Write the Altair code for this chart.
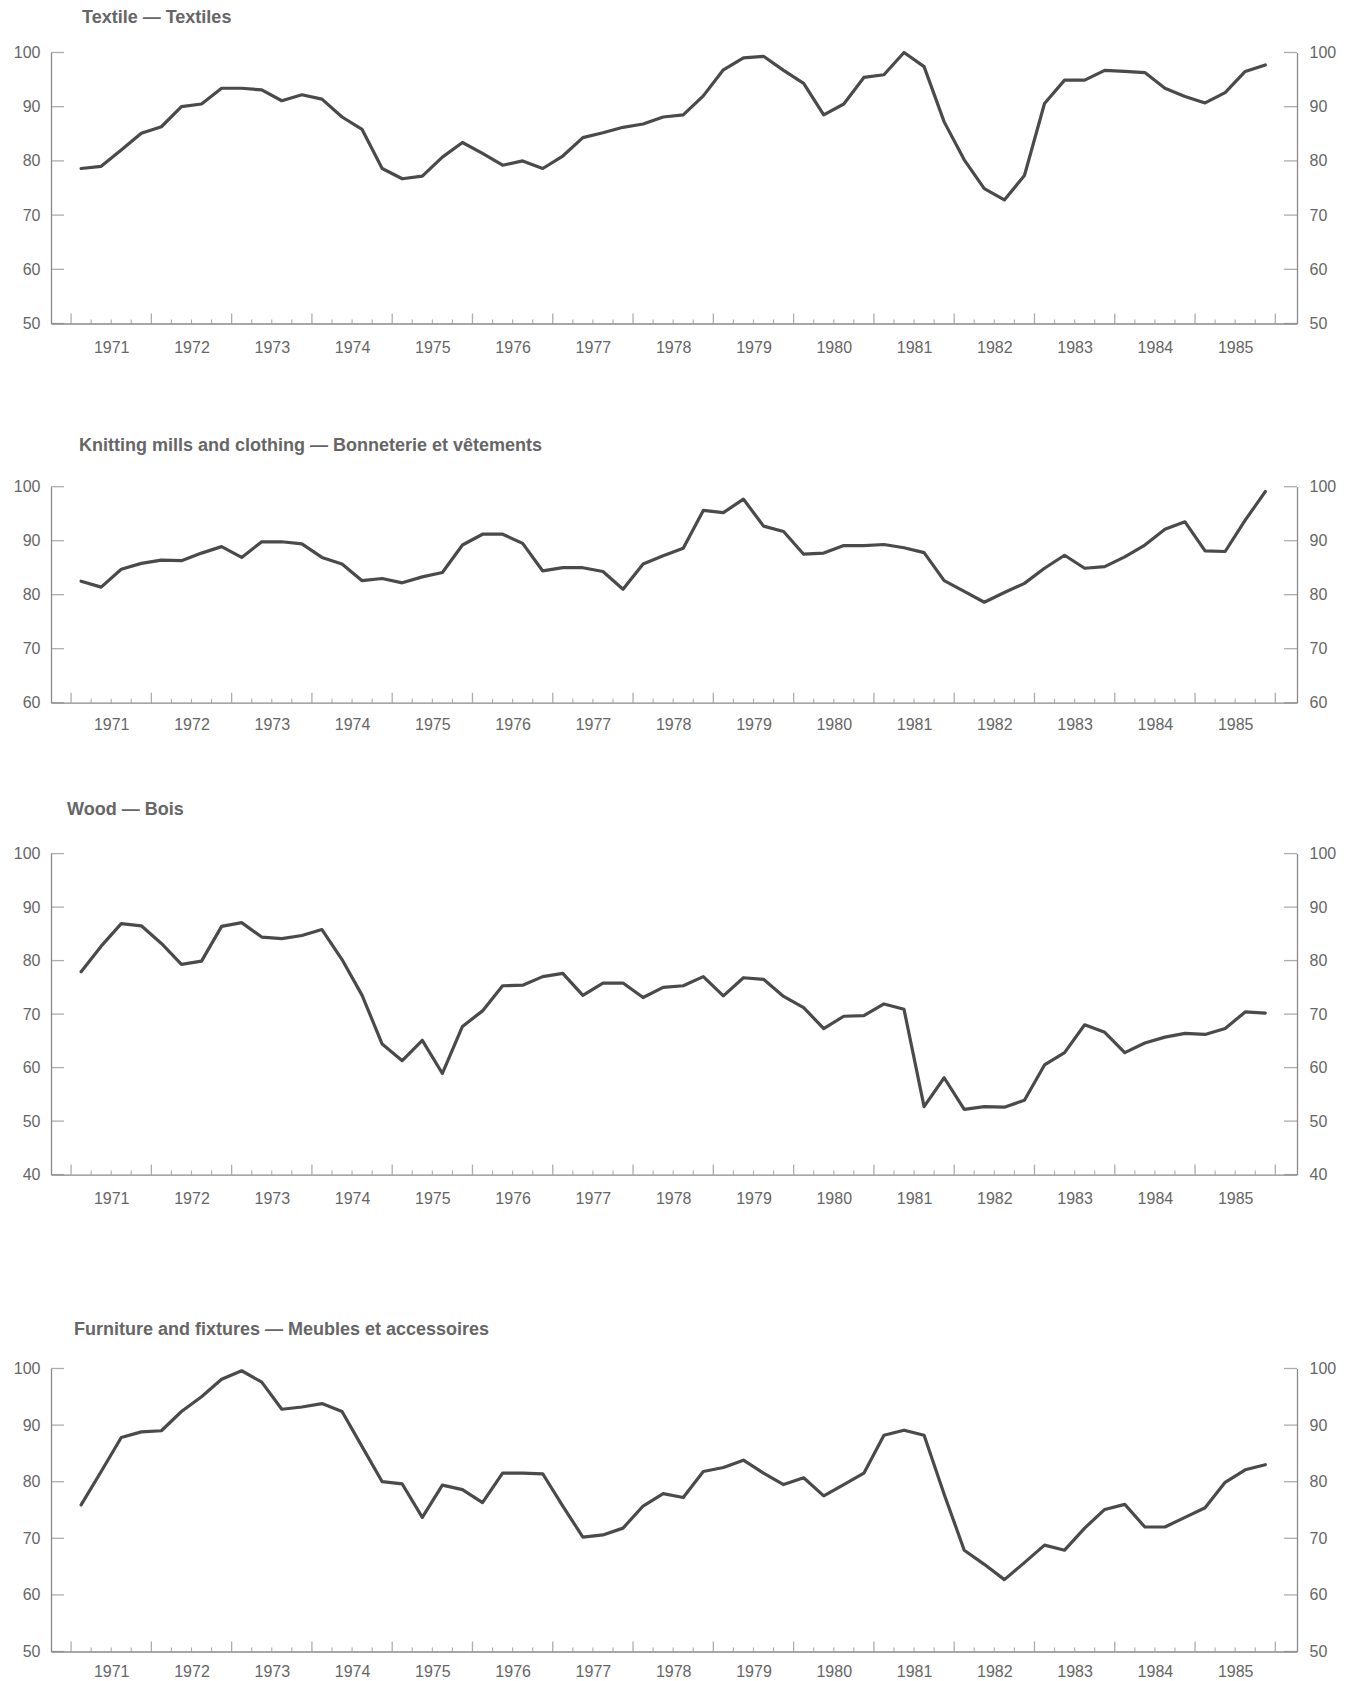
import altair as alt
import pandas as pd

years = list(range(1971, 1986))

titles = [
    "Textile \u2014 Textiles",
    "Knitting mills and clothing \u2014 Bonneterie et v\u00eatements",
    "Wood \u2014 Bois",
    "Furniture and fixtures \u2014 Meubles et accessoires",
]

textile = [78.6, 79.0, 82.0, 85.1, 86.3, 90.0, 90.5, 93.4, 93.4, 93.1,
           91.1, 92.2, 91.4, 88.1, 85.8, 78.6, 76.7, 77.2, 80.7, 83.4,
           81.4, 79.2, 80.0, 78.6, 80.9, 84.3, 85.2, 86.2, 86.8, 88.1,
           88.5, 92.0, 96.8, 99.0, 99.3, 96.7, 94.3, 88.5, 90.5, 95.4,
           95.9, 100.0, 97.4, 87.2, 80.2, 74.9, 72.8, 77.3, 90.6, 94.9,
           94.9, 96.7, 96.5, 96.3, 93.4, 91.9, 90.7, 92.6, 96.5, 97.7]

knitting = [82.5, 81.4, 84.7, 85.8, 86.4, 86.3, 87.7, 88.9, 86.9, 89.8,
            89.8, 89.4, 86.9, 85.7, 82.6, 83.0, 82.2, 83.3, 84.1, 89.2,
            91.2, 91.2, 89.5, 84.4, 85.0, 85.0, 84.3, 81.0, 85.7, 87.2,
            88.6, 95.6, 95.2, 97.7, 92.7, 91.7, 87.5, 87.7, 89.1, 89.1,
            89.3, 88.7, 87.8, 82.6, 80.6, 78.6, 80.4, 82.1, 84.9, 87.3,
            84.9, 85.2, 87.0, 89.2, 92.1, 93.5, 88.1, 88.0, 93.8, 99.1]

wood = [77.9, 82.7, 86.9, 86.5, 83.2, 79.3, 79.9, 86.4, 87.1, 84.4,
        84.1, 84.7, 85.8, 80.2, 73.5, 64.4, 61.3, 65.1, 58.9, 67.7,
        70.6, 75.3, 75.4, 77.0, 77.6, 73.5, 75.8, 75.8, 73.1, 75.0,
        75.3, 77.0, 73.4, 76.8, 76.5, 73.3, 71.2, 67.3, 69.6, 69.7,
        71.9, 70.9, 52.7, 58.1, 52.2, 52.7, 52.6, 53.9, 60.5, 62.8,
        68.0, 66.6, 62.8, 64.6, 65.7, 66.4, 66.2, 67.3, 70.4, 70.2]

furniture = [75.9, 81.8, 87.8, 88.8, 89.0, 92.4, 95.0, 98.1, 99.6, 97.6,
             92.8, 93.2, 93.8, 92.4, 86.2, 80.0, 79.6, 73.7, 79.4, 78.6,
             76.3, 81.5, 81.5, 81.4, 75.7, 70.2, 70.6, 71.8, 75.7, 77.9,
             77.2, 81.8, 82.5, 83.8, 81.5, 79.5, 80.7, 77.5, 79.5, 81.5,
             88.2, 89.1, 88.2, 77.8, 67.9, 65.4, 62.7, 65.7, 68.8, 67.9,
             71.8, 75.1, 76.0, 72.0, 72.0, 73.7, 75.4, 79.9, 82.1, 83.0]

y_lows = [50, 60, 40, 50]

# quarterly time index (mid-quarter)
quarters = [y + (q - 0.5) / 4 for y in years for q in range(1, 5)]
major_ticks = years + [1986]
minor_ticks = [y + q / 4 for y in years for q in range(1, 4)]

X0, X1 = 1970.75, 1986.27
PLOT_W = 1246
FONT = "Liberation Sans"
LINE_C = "#4a4a4a"
AX_C = "#8a8a8a"
TXT_C = "#666666"


def panel(title, values, lo, height, dx, toff, xpad):
    xs = alt.Scale(domain=[X0, X1], nice=False, zero=False)
    ys = alt.Scale(domain=[lo, 100], nice=False, zero=False)
    yvals = list(range(lo, 101, 10))

    df = pd.DataFrame({"t": quarters, "v": values})
    line = alt.Chart(df).mark_line(
        color=LINE_C, strokeWidth=3.2, strokeJoin="round", strokeCap="round"
    ).encode(
        x=alt.X("t:Q", scale=xs, title=None,
                axis=alt.Axis(orient="bottom", values=[y + 0.5 for y in years],
                              labelExpr="'' + floor(datum.value)",
                              ticks=False, tickSize=0, grid=False, domain=True,
                              domainColor=AX_C, domainWidth=1.3,
                              labelPadding=xpad, labelFontSize=16, labelFont=FONT,
                              labelColor=TXT_C)),
        y=alt.Y("v:Q", scale=ys, title=None,
                axis=alt.Axis(orient="left", values=yvals, ticks=False, tickSize=0,
                              grid=False, domain=True, domainColor=AX_C,
                              domainWidth=1.3, labelPadding=11, labelFontSize=16,
                              labelFont=FONT, labelColor=TXT_C)),
    )

    ydf_l = pd.DataFrame({"x": [X0] * len(yvals), "v": yvals})
    ydf_r = pd.DataFrame({"x": [X1] * len(yvals), "v": yvals})

    lticks = alt.Chart(ydf_l).mark_tick(
        orient="horizontal", size=13, thickness=1.3, color=AX_C, xOffset=6.5
    ).encode(
        x=alt.X("x:Q", scale=xs, axis=None),
        y=alt.Y("v:Q", scale=ys, axis=None),
    )
    rticks = alt.Chart(ydf_r).mark_tick(
        orient="horizontal", size=13, thickness=1.3, color=AX_C, xOffset=-6.5
    ).encode(
        x=alt.X("x:Q", scale=xs, axis=None),
        y=alt.Y("v:Q", scale=ys, title=None,
                axis=alt.Axis(orient="right", values=yvals, ticks=False, tickSize=0,
                              grid=False, domain=True, domainColor=AX_C,
                              domainWidth=1.3, labelPadding=12, labelFontSize=16,
                              labelFont=FONT, labelColor=TXT_C)),
    )

    mdf = pd.DataFrame({"t": major_ticks, "v": [lo] * len(major_ticks)})
    ndf = pd.DataFrame({"t": minor_ticks, "v": [lo] * len(minor_ticks)})
    mticks = alt.Chart(mdf).mark_tick(
        orient="vertical", size=10, thickness=1.3, color=AX_C, yOffset=-5
    ).encode(
        x=alt.X("t:Q", scale=xs, axis=None),
        y=alt.Y("v:Q", scale=ys, axis=None),
    )
    nticks = alt.Chart(ndf).mark_tick(
        orient="vertical", size=4, thickness=1.1, color=AX_C, yOffset=-2
    ).encode(
        x=alt.X("t:Q", scale=xs, axis=None),
        y=alt.Y("v:Q", scale=ys, axis=None),
    )

    return alt.layer(line, lticks, rticks, mticks, nticks).resolve_axis(
        x="independent", y="independent"
    ).properties(
        width=PLOT_W, height=height,
        title=alt.TitleParams(title, anchor="start", frame="group", dx=dx,
                              offset=toff, fontSize=18, fontWeight="bold",
                              font=FONT, color=TXT_C),
    )


p1 = panel(titles[0], textile, y_lows[0], 271, 31, 17.5, 16)
p2 = panel(titles[1], knitting, y_lows[1], 216, 28, 23.9, 14)
p3 = panel(titles[2], wood, y_lows[2], 321, 16, 26.6, 16)
p4 = panel(titles[3], furniture, y_lows[3], 283, 23, 21.5, 12)

top = alt.vconcat(p1, p2, spacing=81.2)
bottom = alt.vconcat(p3, p4, spacing=113.9)
chart = alt.vconcat(top, bottom, spacing=67.1).configure(
    background="white",
    padding={"left": 5, "right": 5, "top": 0.5, "bottom": 2},
).configure_view(stroke=None)

chart.save("out.html", embed_options={"renderer": "svg", "actions": False})
